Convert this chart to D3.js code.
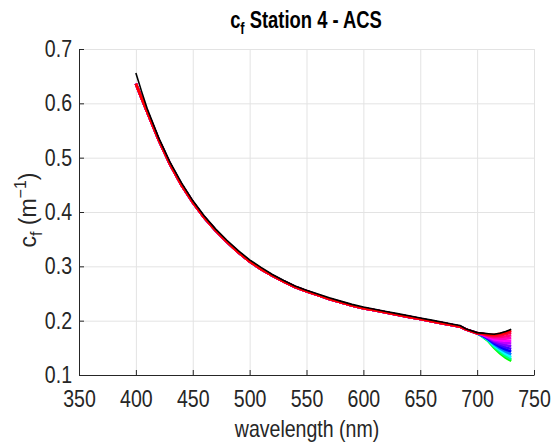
<!DOCTYPE html>
<html>
<head>
<meta charset="utf-8">
<script src="https://cdn.jsdelivr.net/npm/d3@7"></script>
<style>
  body { margin: 0; background: #fff; }
  svg { display: block; font-family: "Liberation Sans", Arial, Helvetica, sans-serif; }
</style>
</head>
<body>
<script>
// wavelengths (nm) shared by all spectra up to 700 nm
var bodyWl = [400,405,410,420,430,440,450,460,470,480,490,500,510,520,530,540,550,560,570,580,590,600,610,620,630,640,650,660,670,680,685,690,700];
// coloured spectra, where they all overlap
var cfBody = [0.636,0.610,0.584,0.533,0.488,0.450,0.418,0.390,0.366,0.345,0.326,0.309,0.295,0.283,0.272,0.262,0.254,0.247,0.240,0.234,0.228,0.223,0.219,0.215,0.211,0.207,0.203,0.199,0.195,0.191,0.189,0.184,0.177];
// black spectrum (top edge of the bundle)
var cfBlack = [0.656,0.622,0.590,0.537,0.492,0.454,0.421,0.393,0.369,0.348,0.329,0.312,0.298,0.285,0.274,0.264,0.256,0.249,0.242,0.236,0.230,0.225,0.221,0.217,0.213,0.209,0.205,0.201,0.197,0.193,0.191,0.185,0.178];

// red end, where the spectra fan out
var tailWl = [705,710,715,720,725,730];
var cfBlackTail = [0.177,0.176,0.175,0.177,0.180,0.184];
var cfTails = [
  [0.176,0.174,0.174,0.176,0.178,0.182],
  [0.176,0.173,0.172,0.173,0.175,0.178],
  [0.175,0.172,0.170,0.170,0.171,0.173],
  [0.175,0.171,0.168,0.167,0.167,0.168],
  [0.174,0.170,0.166,0.164,0.163,0.163],
  [0.174,0.169,0.164,0.161,0.159,0.158],
  [0.173,0.168,0.162,0.158,0.155,0.153],
  [0.173,0.167,0.160,0.155,0.151,0.148],
  [0.172,0.166,0.158,0.152,0.147,0.143],
  [0.172,0.165,0.156,0.149,0.143,0.138],
  [0.171,0.164,0.154,0.146,0.139,0.133],
  [0.171,0.163,0.152,0.143,0.135,0.129],
  [0.170,0.162,0.150,0.140,0.132,0.126]
];
var tailColors = ["#ff0000","#ff0040","#ff0080","#ff00bf","#ff00ff","#bf00ff","#8000ff","#4000ff","#0000ff","#0080ff","#00ffff","#00ff80","#00ff00"];

var xTicks = [350,400,450,500,550,600,650,700,750];
var yTicks = [0.1,0.2,0.3,0.4,0.5,0.6,0.7];

// Mått
var width = 551, height = 443;
var plotLeft = 79, plotRight = 534, plotTop = 49, plotBottom = 375;
var sx = 0.85; // smala tecken som i originalet

var xScale = d3.scaleLinear().domain([350,750]).range([plotLeft,plotRight]);
var yScale = d3.scaleLinear().domain([0.1,0.7]).range([plotBottom,plotTop]);

var svg = d3.select("body").append("svg").attr("width", width).attr("height", height);
svg.append("rect").attr("width", width).attr("height", height).attr("fill", "#fff");

// grid
svg.append("g").attr("transform","translate(0," + plotBottom + ")")
  .call(d3.axisBottom(xScale).tickValues(xTicks).tickSize(-(plotBottom-plotTop)).tickFormat(""))
  .call(function(g){ g.select(".domain").remove(); g.selectAll("line").attr("stroke","#e3e3e3"); });
svg.append("g").attr("transform","translate(" + plotLeft + ",0)")
  .call(d3.axisLeft(yScale).tickValues(yTicks).tickSize(-(plotRight-plotLeft)).tickFormat(""))
  .call(function(g){ g.select(".domain").remove(); g.selectAll("line").attr("stroke","#e3e3e3"); });

// spectra
var line = d3.line().x(function(d){ return xScale(d[0]); }).y(function(d){ return yScale(d[1]); });
var wl = bodyWl.concat(tailWl);
for (var i = cfTails.length - 1; i >= 0; i--) {
  var vals = cfBody.concat(cfTails[i]);
  svg.append("path").datum(d3.zip(wl, vals))
    .attr("d", line).attr("fill","none").attr("stroke", tailColors[i]).attr("stroke-width", 2.6);
}
svg.append("path").datum(d3.zip(wl, cfBlack.concat(cfBlackTail)))
  .attr("d", line).attr("fill","none").attr("stroke","#000").attr("stroke-width", 1.6);

// axes
var axisColor = "#262626";
var xAxis = svg.append("g").attr("transform","translate(0," + plotBottom + ")")
  .call(d3.axisBottom(xScale).tickValues(xTicks).tickSizeInner(-5).tickSizeOuter(0).tickPadding(16).tickFormat(d3.format("d")));
var yAxis = svg.append("g").attr("transform","translate(" + plotLeft + ",0)")
  .call(d3.axisLeft(yScale).tickValues(yTicks).tickSizeInner(-5).tickSizeOuter(0).tickPadding(7).tickFormat(d3.format(".1f")));
[xAxis, yAxis].forEach(function(g){
  g.select(".domain").attr("stroke", axisColor);
  g.selectAll(".tick line").attr("stroke", axisColor);
  g.selectAll(".tick text").attr("fill", axisColor).attr("font-size", 23);
});
xAxis.selectAll(".tick text").attr("transform","scale(" + sx + ",1)");
yAxis.selectAll(".tick text").attr("x", 0).attr("transform","translate(-7,0) scale(" + sx + ",1)");

// title
var title = svg.append("text").attr("transform","translate(306,28) scale(0.8,1)")
  .attr("text-anchor","middle").attr("font-size", 23).attr("font-weight","bold").attr("fill","#000");
title.append("tspan").text("c");
title.append("tspan").attr("font-size", 16).attr("dy", 6).text("f");
title.append("tspan").attr("dy", -6).text(" Station  4 - ACS");

// x label
svg.append("text").attr("transform","translate(307,437) scale(" + sx + ",1)")
  .attr("text-anchor","middle").attr("font-size", 23).attr("fill", axisColor).text("wavelength (nm)");

// y label
var ylab = svg.append("text").attr("transform","translate(36,210) rotate(-90)")
  .attr("text-anchor","middle").attr("font-size", 23).attr("fill", axisColor);
ylab.append("tspan").text("c");
ylab.append("tspan").attr("font-size", 16).attr("dy", 6).text("f");
ylab.append("tspan").attr("dy", -6).text(" (m");
ylab.append("tspan").attr("font-size", 16).attr("dy", -10).text("\u22121");
ylab.append("tspan").attr("dy", 10).text(")");
</script>
</body>
</html>
